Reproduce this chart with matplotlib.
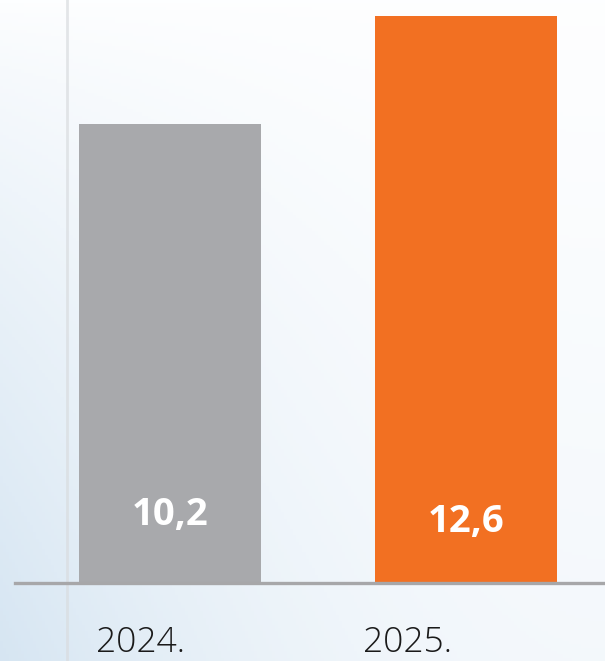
import matplotlib
matplotlib.use("Agg")
from matplotlib import pyplot as plt
import numpy as np

# Data
years = ["2024.", "2025."]
values = [10.2, 12.6]
value_labels = ["10,2", "12,6"]
bar_colors = ["#a8a9ac", "#f27022"]

fig = plt.figure(figsize=(6.05, 6.61), dpi=100)

# soft bluish background (stands in for the building photo)
bg = fig.add_axes([0, 0, 1, 1])
yy, xx = np.mgrid[0:1:200j, 0:1:200j]
light = np.clip(0.25 * yy + 0.75 * (1 - xx) ** 2 * yy ** 0.7, 0, 1)  # yy=1 at bottom
top = np.array([0.995, 0.997, 1.0])
blue = np.array([0.84, 0.90, 0.95])
img = top + (blue - top) * light[..., None]
bg.imshow(img, extent=[0, 1, 0, 1], origin="upper", aspect="auto")
# faint window frame line on the left
bg.axvline(0.11, color="#d9dcdf", lw=2, alpha=0.7)
bg.set_xlim(0, 1)
bg.set_ylim(0, 1)
bg.axis("off")

# Bar chart
ax = fig.add_axes([15 / 605, 78 / 661, 590 / 605, 583 / 661])
ax.patch.set_alpha(0)
x = np.arange(len(values))
ax.bar(x, values, width=0.615, color=bar_colors, zorder=2)
ax.set_xlim(-0.524, 1.47)
ax.set_ylim(0, 12.6 * 583 / 567)

for s in ["top", "right", "left"]:
    ax.spines[s].set_visible(False)
ax.spines["bottom"].set_color("#a7a7a9")
ax.spines["bottom"].set_linewidth(2.4)
ax.set_yticks([])
ax.set_xticks([])

# value labels inside the bars
label_y = [1.5, 1.35]
for i, lab in enumerate(value_labels):
    ax.text(x[i], label_y[i], lab, ha="center", va="center", color="white",
            fontsize=27.5, fontweight="bold", family="Open Sans", zorder=3)

# year labels under the axis
year_x = [-0.10, -0.196]
for i, yr in enumerate(years):
    ax.text(x[i] + year_x[i], -1.33, yr, ha="center", va="center", color="#1a1a1a",
            fontsize=25.5, fontweight="light", family="Open Sans", clip_on=False)

fig.savefig("out.png", dpi=100)
